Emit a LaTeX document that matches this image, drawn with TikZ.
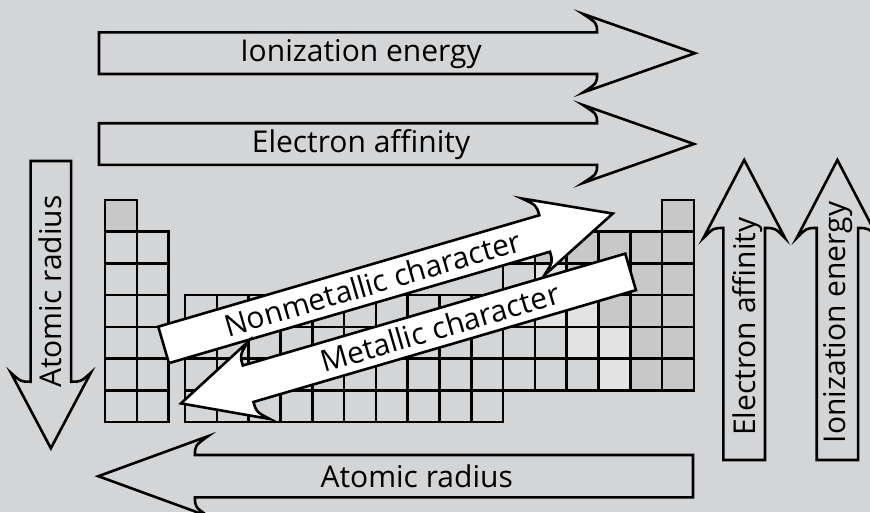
\documentclass[tikz,border=0pt]{standalone}
\usepackage{fontspec}
\setmainfont{Open Sans}
\definecolor{bg}{RGB}{212,213,215}
\definecolor{nonmet}{RGB}{200,200,201}
\definecolor{semi}{RGB}{227,227,227}
\tikzset{
  arrowline/.style={draw=black, line width=2.6pt, line join=miter},
  lbl/.style={font=\fontsize{30}{36}\selectfont, inner sep=0pt},
  cellbox/.style={draw=black, line width=2.6pt},
}
% #1 fill, #2 join, #3 barb, #4 tip, #5 half shaft, #6 half head (tail at 0)
\newcommand\BlkArrow[6]{%
  \path[arrowline,fill=#1] (0,-#5) -- (#2,-#5)
    .. controls (#2,{-#5-0.5*(#6-#5)}) .. (#3,-#6) -- (#4,0) -- (#3,#6)
    .. controls (#2,{#5+0.5*(#6-#5)}) .. (#2,#5) -- (0,#5) -- cycle;}
\newcommand\PTcell[3]{%
  \pgfmathsetmacro\cx{#1<3 ? 105+(#1-1)*31.8 : 185+(#1-3)*31.8}%
  \pgfmathsetmacro\cy{200+(#2-1)*31.7}%
  \path[cellbox,fill=#3] (\cx,\cy) rectangle ++(31.8,31.7);}
\begin{document}
\begin{tikzpicture}[x=1pt,y=-1pt]
\useasboundingbox (0,0) rectangle (870,512);
\fill[bg] (0,0) rectangle (870,512);
% periodic table
\foreach \r in {1,...,7} {\PTcell{1}{\r}{bg}}
\foreach \r in {2,...,7} {\PTcell{2}{\r}{bg}}
\foreach \g in {3,...,12} {\foreach \r in {4,...,7} {\PTcell{\g}{\r}{bg}}}
\foreach \g in {13,...,17} {\foreach \r in {2,...,6} {\PTcell{\g}{\r}{bg}}}
\foreach \r in {1,...,6} {\PTcell{18}{\r}{bg}}
\foreach \g/\r in {1/1,18/1,14/2,15/2,16/2,17/2,18/2,15/3,16/3,17/3,18/3,16/4,17/4,18/4,17/5,18/5,17/6,18/6} {\PTcell{\g}{\r}{nonmet}}
\foreach \g/\r in {13/2,14/3,14/4,15/4,15/5,16/5,16/6} {\PTcell{\g}{\r}{semi}}
% horizontal arrows
\begin{scope}[shift={(99,53.2)}]
  \BlkArrow{bg}{498}{484}{596}{20.8}{39.3}
\end{scope}
\begin{scope}[shift={(99,144)}]
  \BlkArrow{bg}{498}{484}{595}{20.8}{39}
\end{scope}
\begin{scope}[shift={(693,476.2)},rotate=180]
  \BlkArrow{bg}{498}{485}{594.7}{21.2}{40}
\end{scope}
% vertical arrows
\begin{scope}[shift={(50.85,161)},rotate=-90]
  \BlkArrow{bg}{220.7}{211.7}{287.3}{20.2}{40}
\end{scope}
\begin{scope}[shift={(744.2,460)},rotate=90]
  \BlkArrow{bg}{232}{222}{300}{20.8}{40.8}
\end{scope}
\begin{scope}[shift={(837.4,460)},rotate=90]
  \BlkArrow{bg}{232}{222}{300}{20.7}{40.7}
\end{scope}
% diagonal arrows
\begin{scope}[shift={(163.6,344.9)},rotate=16.3]
  \BlkArrow{white}{397}{385}{468}{19}{40}
\end{scope}
\begin{scope}[shift={(630.6,271.9)},rotate=196.3]
  \BlkArrow{white}{398.5}{387.5}{468.5}{19}{40}
\end{scope}
% labels
\node[lbl,anchor=base] (ie) at (361,61.7) {Ionization energy};
\node[lbl,anchor=base] (ea) at (361,152.7) {Electron affinity};
\node[lbl,anchor=base] (ar) at (416.7,487.3) {Atomic radius};
\node[lbl,anchor=base,rotate=90] (arv) at (61.7,291.7) {Atomic radius};
\node[lbl,anchor=base,rotate=90] (eav) at (755,326.7) {Electron affinity};
\node[lbl,anchor=base,rotate=90] (iev) at (845,322.5) {Ionization energy};
\node[lbl,anchor=base,rotate=16.3] (nm) at (375.9,293.9) {Nonmetallic character};
\node[lbl,anchor=base,rotate=16.3] (mc) at (442.9,338.0) {Metallic character};
\end{tikzpicture}
\end{document}
